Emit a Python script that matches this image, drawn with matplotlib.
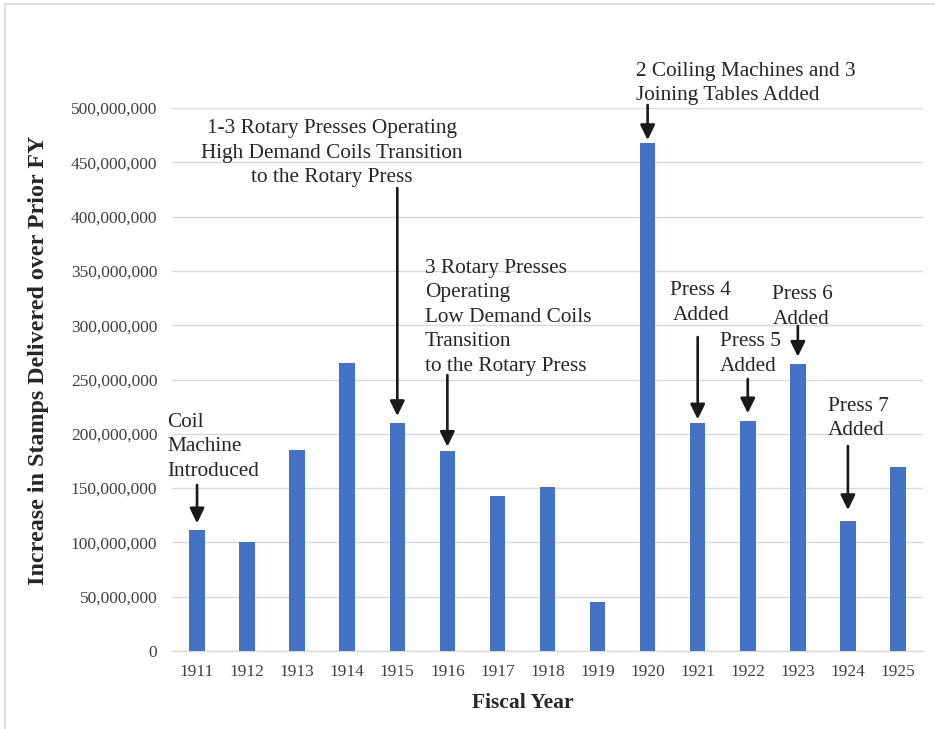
import matplotlib
matplotlib.use("Agg")
import matplotlib.pyplot as plt
from matplotlib.patches import Rectangle
from matplotlib.transforms import ScaledTranslation
from matplotlib.ticker import FuncFormatter, MultipleLocator

# ---------------- data ----------------
years = ["1911", "1912", "1913", "1914", "1915", "1916", "1917", "1918",
         "1919", "1920", "1921", "1922", "1923", "1924", "1925"]
increase = [111_400_000, 100_000_000, 185_000_000, 265_500_000, 209_700_000,
            183_900_000, 143_000_000, 150_700_000, 44_800_000, 467_800_000,
            210_000_000, 211_500_000, 264_000_000, 120_000_000, 169_400_000]

# annotation texts and the year they point at
ann_texts = [
    "Coil\nMachine\nIntroduced",
    "1-3 Rotary Presses Operating\nHigh Demand Coils Transition\nto the Rotary Press",
    "3 Rotary Presses\nOperating\nLow Demand Coils\nTransition\nto the Rotary Press",
    "2 Coiling Machines and 3\nJoining Tables Added",
    "Press 4\nAdded",
    "Press 5\nAdded",
    "Press 6\nAdded",
    "Press 7\nAdded",
]
ann_years = ["1911", "1915", "1916", "1920", "1921", "1922", "1923", "1924"]
# text anchor (x in category units, y of first baseline), alignment
ann_text_x = [-0.60, 2.70, 4.55, 8.77, 10.06, 10.45, 11.49, 12.60]
ann_text_y = [206.5e6, 476.7e6, 348.3e6, 529.5e6, 327.8e6, 280.8e6, 324.1e6, 221.3e6]
ann_ha = ["left", "center", "left", "left", "center", "left", "left", "left"]
# arrow start / tip heights
arrow_start = [152.9e6, 426.3e6, 254.1e6, 502.8e6, 289.1e6, 250.5e6, 299.3e6, 188.8e6]
arrow_tip = [117.6e6, 216.4e6, 188.1e6, 470.5e6, 213.3e6, 218.9e6, 271.0e6, 129.8e6]

# ---------------- style ----------------
plt.rcParams["font.family"] = ["Liberation Serif", "DejaVu Serif"]
BAR = "#4472C4"
GRID = "#d9d9d9"
TICK = "#404040"
TXT = "#262626"

W, H = 935, 729
fig = plt.figure(figsize=(W / 100, H / 100), dpi=100)
ax = fig.add_axes([172 / W, (H - 651) / H, (923 - 172) / W, (651 - 108) / H])

xpos = list(range(len(years)))
ax.bar(xpos, increase, width=0.31, color=BAR, zorder=3)

ax.set_xlim(-0.5, len(years) - 0.5)
ax.set_ylim(0, 500_000_000)
ax.yaxis.set_major_locator(MultipleLocator(50_000_000))
ax.yaxis.set_major_formatter(FuncFormatter(lambda v, p: f"{int(v):,}"))
ax.set_xticks(xpos)
ax.set_xticklabels(years)
ax.grid(axis="y", color=GRID, lw=1, zorder=0)
ax.tick_params(axis="both", length=0, labelsize=12.5, labelcolor=TICK)
ax.tick_params(axis="y", pad=10.5)
ax.tick_params(axis="x", pad=9)
for s in ["top", "right", "left"]:
    ax.spines[s].set_visible(False)
ax.spines["bottom"].set_color(GRID)
ax.spines["bottom"].set_linewidth(1)

fig.text(39 / W, 1 - 360 / H, "Increase in Stamps Delivered over Prior FY",
         rotation=90, ha="center", va="center", fontsize=17.3,
         fontweight="bold", color=TXT)
fig.text(523 / W, 1 - 703 / H, "Fiscal Year", ha="center", va="center",
         fontsize=15.5, fontweight="bold", color=TXT)

# annotations
line_h = 24.5 * 72 / 100  # points
for txt, yr, tx, ty, ha, a0, a1 in zip(ann_texts, ann_years, ann_text_x,
                                       ann_text_y, ann_ha, arrow_start, arrow_tip):
    for i, line in enumerate(txt.split("\n")):
        tr = ax.transData + ScaledTranslation(0, -i * line_h / 72, fig.dpi_scale_trans)
        ax.text(tx, ty, line, ha=ha, va="baseline", fontsize=15.3, color=TXT,
                transform=tr, clip_on=False, zorder=5)
    xi = years.index(yr)
    ax.annotate("", xy=(xi, a1), xytext=(xi, a0),
                arrowprops=dict(arrowstyle="-|>,head_length=0.45,head_width=0.22",
                                mutation_scale=20, lw=1.9, color="#1a1a1a",
                                shrinkA=0, shrinkB=0),
                annotation_clip=False, zorder=6)

# light frame
fig.patches.append(Rectangle((4.5 / W, -0.1), 2, (H - 4.5) / H + 0.1,
                             transform=fig.transFigure, fill=False,
                             edgecolor=GRID, lw=1.2))

fig.savefig("out.png", dpi=100)
